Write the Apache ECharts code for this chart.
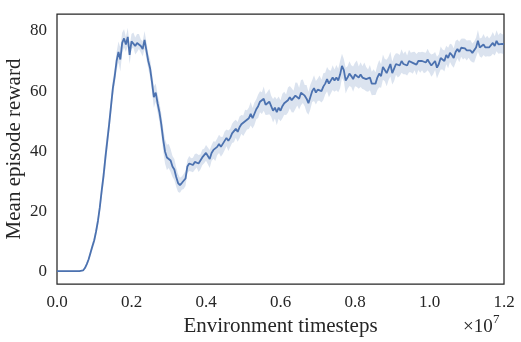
<!DOCTYPE html>
<html><head><meta charset="utf-8">
<script src="https://cdn.jsdelivr.net/npm/echarts@6/dist/echarts.min.js"></script>
<style>html,body{margin:0;padding:0;background:#fff}#c{width:521px;height:342px}</style>
</head><body><div id="c"></div>
<script>
// timesteps are sampled every 50,000 steps from 0 to 1.2e7
const stepSize = 50000;
const meanReward = [
  0.3,0.3,0.3,0.3,0.3,0.3,0.3,0.3,0.3,0.3,
  0.3,0.3,0.3,0.35,0.5,1.3,2.6,4.2,6.4,8.5,
  10.5,13.5,17,21.5,27,32,38,43.5,49,55,
  61,65,70,73,70.5,76,77.5,75.5,78,72,
  76.5,77,75,76,76.5,75,74,77,73.5,70,
  67.5,63,58,59.5,56,53,49,44,40,38,
  38.5,37,35,34,31.5,29.5,28.8,29.5,30,31,
  35,36,35.5,35.5,36.5,37,36,36.5,38,38.5,
  39.5,38.5,37.5,39.5,40.5,40,41.5,42.5,41.5,42,
  43.5,44.5,43.5,44.5,46,46.5,47.5,46.5,48,49,
  48.5,50,50.5,51,52.5,51,52.5,54,55,56.5,
  56,57.5,55.5,56,56.5,55,53.5,54.5,53,54.5,
  53.5,55,56,55.5,57,58,57,56.5,58.5,59,
  57.5,59.5,60,58.5,57.5,56,58,60,61,59.5,
  60.5,61,60,61.5,62.5,64,62.5,63,64.5,63.5,
  64.5,63.5,65.5,68.4,67,63.5,64.5,65.8,65,64,
  65.5,65.8,64.5,65.5,64.5,65,64,63.5,64.5,62.5,
  63,62.5,64.5,65.8,65,68,67,66,67.5,69,
  66,67.5,69,68.5,68.5,70,69,69.4,68.5,70,
  69.5,69.4,70,68.8,70,69.5,70,69.4,69.5,70.5,
  69.4,68.5,69,70,67.8,69,71,70.5,70,72,
  71,72.7,72,71,73,74,73,74.4,74,74.2,
  73.5,74,73.5,72.7,73,74.5,76.7,74.5,74.4,75.5,
  74.5,75,74.5,75,76,75,76.7,75.5,76,75.7,
  75.5
];
const rewardSpread = [
  0.2,0.2,0.2,0.2,0.2,0.2,0.2,0.2,0.2,0.2,
  0.2,0.2,0.2,0.2,0.3,0.4,0.6,0.8,1,1.2,
  1.3,1.5,1.8,2,2.4,3,3.5,3,2.8,3,
  3,2.8,3,3.5,4,3.5,3,2.5,3,3,
  2.5,2.5,2.8,3,2.5,2.2,2.5,3,2.8,2.5,
  3,3.2,3.5,3,3,3.2,3.5,3.8,4,4.2,
  4,3.8,3.5,3.5,3.2,3,2.5,2.2,2.5,2.5,
  2.2,2.5,2.2,2.4,2.6,2.3,2.8,2.5,2.6,2.4,
  2.6,2.8,3,2.6,2.9,3.2,2.8,3,3.3,2.9,
  3.1,2.8,3.4,3,3.2,3.5,3,3.3,3.6,3.1,
  3.4,3.8,3.2,3.6,3.9,3.4,3.7,3.3,3.9,3.5,
  3.6,4,3.4,3.8,4.2,3.5,3.9,3.6,4.3,3.7,
  3.5,4.1,3.8,3.4,4.2,3.7,4,3.6,4.4,3.8,
  3.6,4.2,3.9,3.5,4.5,3.8,4.1,3.6,4.3,3.9,
  3.7,4.2,3.8,4.4,3.6,4,4.5,3.8,4.1,3.7,
  4.2,3.9,4.5,4,3.7,4.3,3.8,4.1,3.6,4.2,
  3.9,4.4,3.7,4.1,3.8,4.5,4,3.7,4.2,3.9,
  4.3,3.8,4.1,4.5,3.9,4.2,3.7,4.4,3.9,4.1,
  3.8,4.2,3.6,4,3.5,3.9,3.4,3.8,3.3,3.7,
  3.2,3.6,3.1,3.5,3,3.4,3.1,3.5,3.2,3.6,
  3.3,3.7,3.4,3,3.6,3.2,3.8,3.3,3.5,3.1,
  3.4,3,3.5,3.2,3.6,3.1,3.4,3,3.5,3.2,
  3.3,2.9,3.4,3.1,3.5,3.2,3.6,3,3.3,3.5,
  3.1,3.4,3,3.3,3.6,3.2,3.5,3.1,3.4,3.2,
  3.3
];
const xTickValues = [0, 2e6, 4e6, 6e6, 8e6, 1e7, 1.2e7];
const xTickLabels = ['0.0','0.2','0.4','0.6','0.8','1.0','1.2'];
const yTickValues = [0, 20, 40, 60, 80];
const yTickLabels = ['0','20','40','60','80'];

const timesteps = meanReward.map((_, i) => i * stepSize);
const meanPairs = meanReward.map((v, i) => [timesteps[i], v]);

const FONT = '"Liberation Serif", "DejaVu Serif", serif';
const TXT = '#262626';
const chart = echarts.init(document.getElementById('c'), null, {renderer: 'canvas'});
chart.setOption({
  animation: false,
  backgroundColor: '#fff',
  grid: {left: 57, right: 17, top: 14, bottom: 58, show: true, borderColor: '#262626', borderWidth: 1.25,
         backgroundColor: 'transparent', containLabel: false, outerBoundsMode: 'none'},
  xAxis: {
    type: 'value', min: 0, max: 1.2e7,
    axisLine: {show: false}, axisTick: {show: false}, splitLine: {show: false},
    axisLabel: {
      customValues: xTickValues,
      formatter: v => { const k = xTickValues.indexOf(v); return k >= 0 ? xTickLabels[k] : ''; },
      color: TXT, fontFamily: FONT, fontSize: 17, margin: 10
    },
    name: 'Environment timesteps', nameLocation: 'middle', nameGap: 29,
    nameTextStyle: {color: TXT, fontFamily: FONT, fontSize: 21}
  },
  yAxis: {
    type: 'value', min: -4, max: 85.6,
    axisLine: {show: false}, axisTick: {show: false}, splitLine: {show: false},
    axisLabel: {
      customValues: yTickValues,
      formatter: v => { const k = yTickValues.indexOf(v); return k >= 0 ? yTickLabels[k] : ''; },
      color: TXT, fontFamily: FONT, fontSize: 17, margin: 10
    },
    name: 'Mean episode reward', nameLocation: 'middle', nameGap: 32, nameMoveOverlap: false,
    nameTextStyle: {color: TXT, fontFamily: FONT, fontSize: 21}
  },
  series: [
    {
      type: 'custom',
      data: [[0, 0]],
      silent: true,
      clip: true,
      z: 1,
      renderItem: function (params, api) {
        const pts = [];
        for (let i = 0; i < meanReward.length; i++) pts.push(api.coord([timesteps[i], meanReward[i] + rewardSpread[i]]));
        for (let i = meanReward.length - 1; i >= 0; i--) pts.push(api.coord([timesteps[i], meanReward[i] - rewardSpread[i]]));
        return {type: 'polygon', shape: {points: pts}, style: {fill: 'rgba(76,114,176,0.2)'}};
      }
    },
    {
      type: 'line', data: meanPairs, showSymbol: false, z: 3,
      lineStyle: {color: '#4c72b0', width: 1.8}, itemStyle: {color: '#4c72b0'}
    }
  ],
  graphic: [
    {type: 'text', left: 463, top: 318, style: {text: '×10', fill: TXT, font: '19px ' + FONT}},
    {type: 'text', left: 493, top: 313, style: {text: '7', fill: TXT, font: '13px ' + FONT}}
  ]
});
</script>
</body></html>
